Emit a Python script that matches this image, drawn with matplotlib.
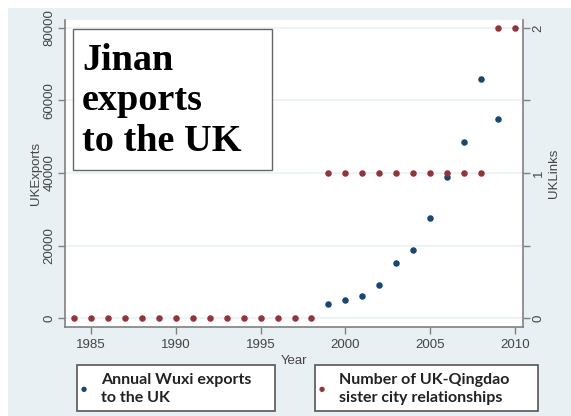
import numpy as np
import matplotlib.pyplot as plt
from matplotlib.patches import Rectangle

# values
years_exp = [1999, 2000, 2001, 2002, 2003, 2004, 2005, 2006, 2007, 2008, 2009]
exports = [3900, 5000, 6000, 9000, 15300, 18800, 27700, 39000, 48500, 65800, 54900]
years_links = list(range(1984, 2011))
links = [0] * 15 + [1] * 10 + [2] * 2
navy = '#1a476f'
maroon = '#90353b'
axcol = '#808080'
txtcol = '#444444'

W, H = 571, 416
fig = plt.figure(figsize=(W / 100, H / 100), dpi=100)
fig.patch.set_facecolor('white')
fig.patches.append(Rectangle((8 / W, 0), 1 - 8 / W, 1 - 8 / H, transform=fig.transFigure,
                             facecolor='#e8f0f3', edgecolor='none', zorder=-10))

ax = fig.add_axes([65 / W, 1 - 327 / H, (523 - 65) / W, (327 - 20) / H])
ax.set_facecolor('white')
ax.scatter(years_exp, exports, s=22, color=navy, zorder=3, linewidths=0)
ax.set_xlim(1983.47, 2010.47)
ax.set_ylim(-2480, 82200)
ax.set_yticks(np.arange(0, 80001, 20000))
ax.set_xticks(np.arange(1985, 2011, 5))
ax.yaxis.grid(True, color='#eaf2f3', lw=1.2)
ax.set_axisbelow(True)

ax2 = ax.twinx()
ax2.scatter(years_links, links, s=22, color=maroon, zorder=3, linewidths=0)
ax2.set_ylim(-2480 / 40000, 82200 / 40000)
ax2.set_yticks([0, 1, 2])
ax2.set_yticks([0.5, 1.5], minor=True)

for a in (ax, ax2):
    a.spines['top'].set_visible(False)
    for s in ('left', 'right', 'bottom'):
        a.spines[s].set_color(axcol)
        a.spines[s].set_linewidth(1.2)
    a.tick_params(which='both', color=axcol, length=5, width=1, labelcolor=txtcol, labelsize=9.5)
ax.spines['right'].set_visible(False)
ax2.spines['left'].set_visible(False)
ax2.spines['bottom'].set_visible(False)

plt.setp(ax.get_yticklabels(), rotation=90, va='center', family='Liberation Sans')
plt.setp(ax.get_xticklabels(), family='Liberation Sans')
plt.setp(ax2.get_yticklabels(), rotation=90, va='center', family='Liberation Sans')
ax.tick_params(axis='y', pad=2)
ax2.tick_params(axis='y', pad=2)

ax.set_ylabel('UKExports', color=txtcol, fontsize=9.5, family='Liberation Sans', labelpad=1)
ax2.set_ylabel('UKLinks', color=txtcol, fontsize=9.5, family='Liberation Sans', labelpad=2)
ax.set_xlabel('Year', color=txtcol, fontsize=9.5, family='Liberation Sans')
ax.xaxis.set_label_coords(0.5, -0.09)

# title box
fig.patches.append(Rectangle((73 / W, 1 - 170 / H), (272 - 73) / W, (170 - 29) / H,
                             transform=fig.transFigure, facecolor='white',
                             edgecolor='#666666', lw=1, zorder=5))
fig.text(82 / W, 1 - 101 / H, 'Jinan\nexports\nto the UK', family='Liberation Serif',
         weight='bold', fontsize=27.5, va='center', ha='left', linespacing=1.2, zorder=6)

# legend boxes
for x0, x1, col, label in [(77, 275, navy, 'Annual Wuxi exports\nto the UK'),
                           (315, 538, maroon, 'Number of UK-Qingdao\nsister city relationships')]:
    fig.patches.append(Rectangle((x0 / W, 1 - 411 / H), (x1 - x0) / W, (411 - 365) / H,
                                 transform=fig.transFigure, facecolor='white',
                                 edgecolor='#555555', lw=1.2, zorder=5))
    fig.text((x0 + 7) / W, 1 - 389 / H, '\u25cf', color=col, fontsize=5,
             ha='center', va='center', zorder=6)
    fig.text((x0 + 24) / W, 1 - 389 / H, label, family='Lato', weight='bold',
             fontsize=11.5, va='center', ha='left', linespacing=1.4, color='#222222', zorder=6)

fig.savefig('out.png', dpi=100)
